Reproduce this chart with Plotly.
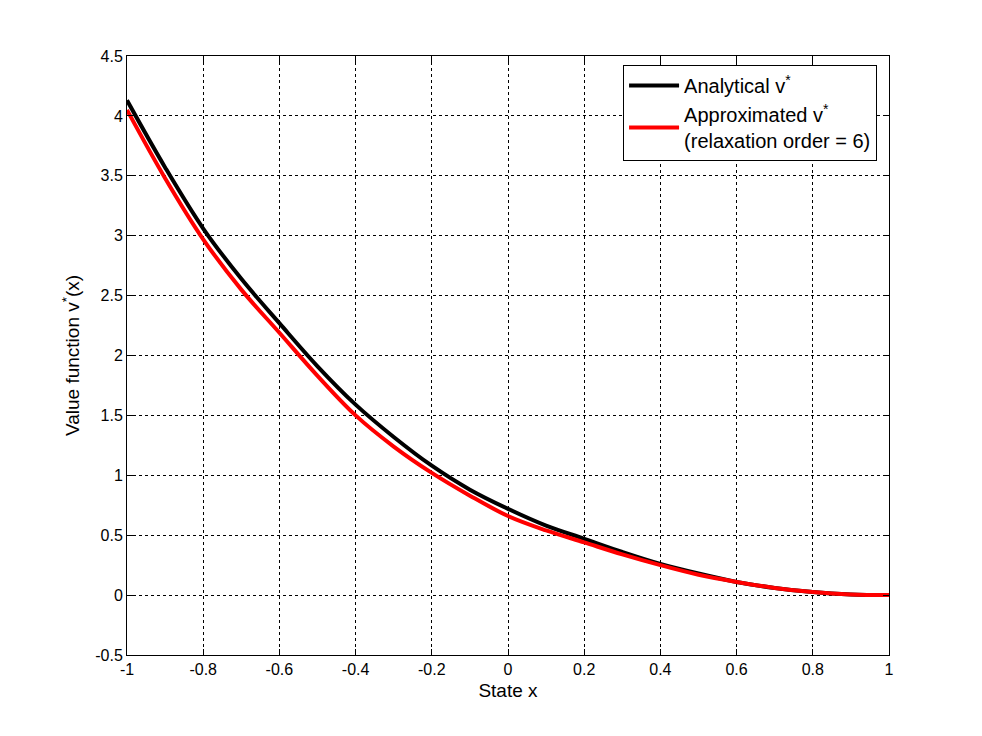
import plotly.graph_objects as go

# state grid and value functions
x_state = [-1.0, -0.9, -0.8, -0.7, -0.6, -0.5, -0.4, -0.3, -0.2, -0.1, 0.0,
           0.1, 0.2, 0.3, 0.4, 0.5, 0.6, 0.7, 0.8, 0.9, 1.0]
v_analytical = [4.13, 3.57, 3.06, 2.64, 2.27, 1.91, 1.59, 1.32, 1.08, 0.88, 0.72,
                0.58, 0.47, 0.36, 0.26, 0.18, 0.11, 0.06, 0.025, 0.005, 0.0]
v_approx = [4.05, 3.48, 2.97, 2.55, 2.19, 1.83, 1.50, 1.24, 1.02, 0.83, 0.66,
            0.54, 0.44, 0.34, 0.25, 0.17, 0.11, 0.06, 0.025, 0.005, 0.0]

x_ticks = [-1, -0.8, -0.6, -0.4, -0.2, 0, 0.2, 0.4, 0.6, 0.8, 1]
y_ticks = [-0.5, 0, 0.5, 1, 1.5, 2, 2.5, 3, 3.5, 4, 4.5]

font_family = "Liberation Sans, Arial, sans-serif"

fig = go.Figure()
fig.add_trace(go.Scatter(x=x_state, y=v_analytical, mode="lines", line_shape="spline",
                         name="Analytical v<sup>*</sup>",
                         line=dict(color="black", width=4)))
fig.add_trace(go.Scatter(x=x_state, y=v_approx, mode="lines", line_shape="spline",
                         name="Approximated v<sup>*</sup><br>(relaxation order = 6)",
                         line=dict(color="#ff0000", width=4)))

axis_style = dict(showline=True, linecolor="black", linewidth=1, mirror="allticks",
                  ticks="inside", ticklen=6, tickcolor="black",
                  showgrid=True, gridcolor="black", griddash="3px,3px", gridwidth=1,
                  zeroline=False, tickfont=dict(size=16, color="black", family=font_family),
                  title_font=dict(size=19, color="black", family=font_family))

fig.update_xaxes(range=[-1, 1], tickvals=x_ticks, ticktext=[f"{t:g}" for t in x_ticks],
                 title_text="State x", title_standoff=6, **axis_style)
fig.update_yaxes(range=[-0.5, 4.5], tickvals=y_ticks, ticktext=[f"{t:g}" for t in y_ticks],
                 title_text="Value function v<sup>*</sup>(x)", title_standoff=10, **axis_style)

# page body has an 8px margin, so the margins are shifted to line up the plot area
fig.update_layout(
    width=982, height=736,
    margin=dict(l=119, r=101, t=48, b=89),
    paper_bgcolor="white", plot_bgcolor="white",
    font=dict(family=font_family, color="black"),
    showlegend=True,
    legend=dict(x=0.651, y=0.985, xanchor="left", yanchor="top",
                bgcolor="white", bordercolor="black", borderwidth=1,
                font=dict(size=20, color="black", family=font_family),
                itemwidth=50, tracegroupgap=2),
)

fig.write_html("out.html")
